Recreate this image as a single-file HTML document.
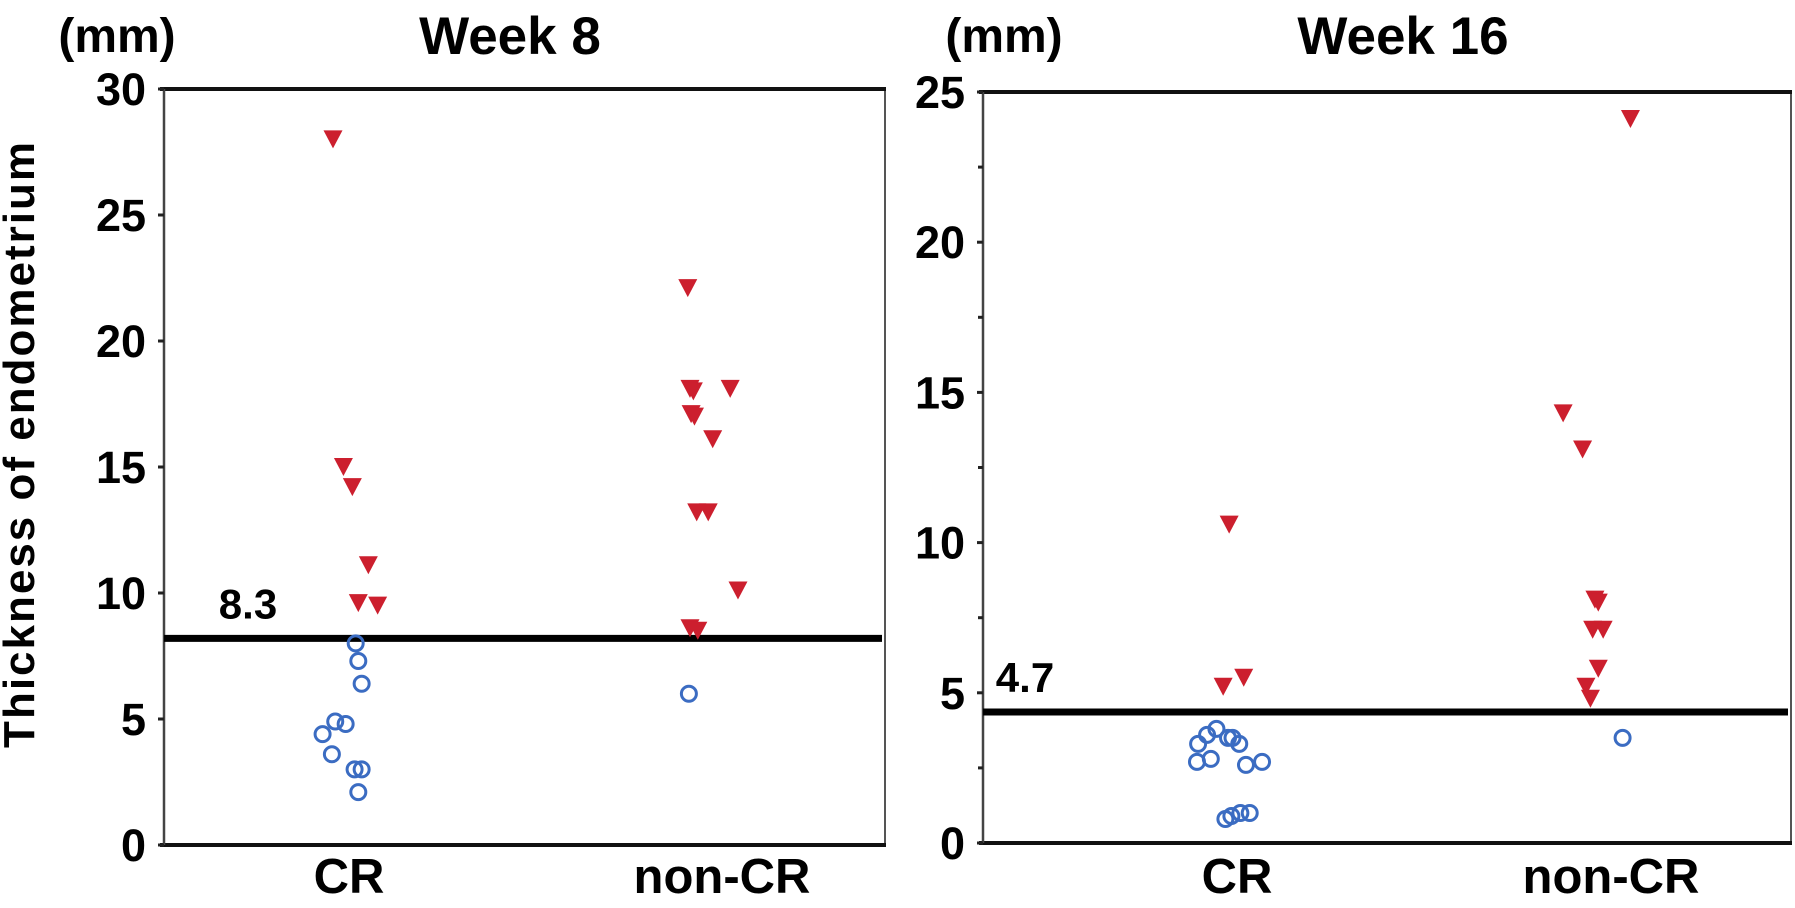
<!DOCTYPE html>
<html><head><meta charset="utf-8"><style>
html,body{margin:0;padding:0;background:#fff;}
svg{display:block;font-family:"Liberation Sans",Arial,sans-serif;font-weight:bold;}
</style></head><body>
<svg id="chart" width="1795" height="908" viewBox="0 0 1795 908">
<text x="34" y="444" font-size="44" text-anchor="middle" transform="rotate(-90 34 444)" letter-spacing="2">Thickness of endometrium</text>
</svg>
<script>
// ---- data: Week 8 ----
const categories = ["CR", "non-CR"];
const w8Ticks = [0, 5, 10, 15, 20, 25, 30];
const w8CrRed = [28, 15, 14.2, 11.1, 9.6, 9.5];
const w8CrRedJ = [-0.043, -0.015, 0.009, 0.052, 0.025, 0.077];
const w8CrBlue = [8.0, 7.3, 6.4, 4.4, 4.9, 4.8, 3.6, 3.0, 3.0, 2.1];
const w8CrBlueJ = [0.018, 0.025, 0.034, -0.071, -0.037, -0.009, -0.046, 0.015, 0.034, 0.025];
const w8NonRed = [22.1, 18.1, 18, 18.1, 17.1, 17, 16.1, 13.2, 13.2, 10.1, 8.6, 8.5];
const w8NonRedJ = [-0.092, -0.086, -0.077, 0.022, -0.083, -0.074, -0.025, -0.068, -0.037, 0.043, -0.086, -0.065];
const w8NonBlue = [6.0];
const w8NonBlueJ = [-0.089];
const w8Cutoff = 8.2;
const w8CutoffLabel = "8.3";
// ---- data: Week 16 ----
const w16Ticks = [0, 5, 10, 15, 20, 25];
const w16Minor = [2.5, 7.5, 12.5, 17.5, 22.5];
const w16CrRed = [10.6, 5.2, 5.5];
const w16CrRedJ = [-0.021, -0.037, 0.018];
const w16CrBlue = [3.8, 3.6, 3.3, 3.5, 3.5, 3.3, 2.7, 2.8, 2.6, 2.7, 0.8, 0.9, 1.0, 1.0];
const w16CrBlueJ = [-0.055, -0.080, -0.104, -0.012, -0.024, 0.006, -0.107, -0.070, 0.024, 0.067, -0.031, -0.015, 0.009, 0.034];
const w16NonRed = [24.1, 14.3, 13.1, 8.1, 8.0, 7.1, 7.1, 5.8, 5.2, 4.8];
const w16NonRedJ = [0.052, -0.128, -0.076, -0.043, -0.034, -0.049, -0.021, -0.034, -0.067, -0.055];
const w16NonBlue = [3.5];
const w16NonBlueJ = [0.031];
const w16Cutoff = 4.36;
const w16CutoffLabel = "4.7";

const NS = "http://www.w3.org/2000/svg";
const svg = document.getElementById("chart");
function mk(tag, attrs, parent) {
  const e = document.createElementNS(NS, tag);
  for (const k in attrs) e.setAttribute(k, attrs[k]);
  (parent || svg).appendChild(e);
  return e;
}

function panel(cfg) {
  const g = mk("g", {});
  
  
  const y = v => cfg.bottom - (v / cfg.max) * (cfg.bottom - cfg.top);
  const x = (ci, j) => cfg.cx[ci] + j * cfg.unit;
  const right = mk("line", {x1: cfg.right, y1: cfg.top, x2: cfg.right, y2: cfg.bottom, stroke: "#555", "stroke-width": 2}, g);
  
  
  const top = mk("line", {x1: cfg.left - 4, y1: cfg.top, x2: cfg.right + 1, y2: cfg.top, stroke: "#111", "stroke-width": 4}, g);
  
  
  const bot = mk("line", {x1: cfg.left - 4, y1: cfg.bottom, x2: cfg.right + 1, y2: cfg.bottom, stroke: "#111", "stroke-width": 4}, g);
  
  
  const yax = mk("line", {x1: cfg.left, y1: cfg.top, x2: cfg.left, y2: cfg.bottom, stroke: "#444", "stroke-width": 2.5}, g);
  
  
  cfg.ticks.forEach(t => {
    const tk = mk("line", {x1: cfg.left - 6, y1: y(t), x2: cfg.left, y2: y(t), stroke: "#222", "stroke-width": 3}, g);
    
    
    const lb = mk("text", {x: cfg.left - 18, y: y(t) + 16, "font-size": 45, "text-anchor": "end"}, g);
    lb.textContent = t;
    
    
  });
  (cfg.minor || []).forEach(t => {
    const tk = mk("line", {x1: cfg.left - 5, y1: y(t), x2: cfg.left, y2: y(t), stroke: "#222", "stroke-width": 3}, g);
    
    
  });
  categories.forEach((c, i) => {
    const lb = mk("text", {x: cfg.cx[i], y: 893, "font-size": 49, "text-anchor": "middle"}, g);
    lb.textContent = c;
    
    
  });
  const ti = mk("text", {x: cfg.titleX, y: 54, "font-size": 53, "text-anchor": "middle"}, g);
  ti.textContent = cfg.title;
  
  
  const mm = mk("text", {x: cfg.mmX, y: 52, "font-size": 48, "text-anchor": "middle"}, g);
  mm.textContent = "(mm)";
  
  
  const cl = mk("line", {x1: cfg.left, y1: y(cfg.cutoff), x2: cfg.right - 3, y2: y(cfg.cutoff), stroke: "#000", "stroke-width": 7}, g);
  
  
  const ct = mk("text", {x: cfg.cutX, y: y(cfg.cutoff) - 20, "font-size": 42, "text-anchor": "middle"}, g);
  ct.textContent = cfg.cutLabel;
  
  
  cfg.blue.forEach(([vals, js, ci]) => vals.forEach((v, k) => {
    const c = mk("circle", {cx: x(ci, js[k]), cy: y(v), r: 7.5, fill: "none", stroke: "#3b6cc2", "stroke-width": 3}, g);
    
    
  }));
  cfg.red.forEach(([vals, js, ci]) => vals.forEach((v, k) => {
    const px = x(ci, js[k]), py = y(v);
    const p = mk("path", {d: `M${px - 9.5} ${py - 9} L${px + 9.5} ${py - 9} L${px} ${py + 9} Z`, fill: "#cc1f2e"}, g);
    
    
  }));
}

panel({name: "week8-panel", left: 164, right: 885, top: 89, bottom: 845, max: 30,
  ticks: w8Ticks, cx: [349, 722], unit: 372, title: "Week 8", titleX: 510, mmX: 117,
  cutoff: w8Cutoff, cutLabel: w8CutoffLabel, cutX: 248,
  red: [[w8CrRed, w8CrRedJ, 0], [w8NonRed, w8NonRedJ, 1]],
  blue: [[w8CrBlue, w8CrBlueJ, 0], [w8NonBlue, w8NonBlueJ, 1]]});
panel({name: "week16-panel", left: 983, right: 1791, top: 92, bottom: 843, max: 25,
  ticks: w16Ticks, minor: w16Minor, cx: [1237, 1611], unit: 374, title: "Week 16", titleX: 1403, mmX: 1004,
  cutoff: w16Cutoff, cutLabel: w16CutoffLabel, cutX: 1025,
  red: [[w16CrRed, w16CrRedJ, 0], [w16NonRed, w16NonRedJ, 1]],
  blue: [[w16CrBlue, w16CrBlueJ, 0], [w16NonBlue, w16NonBlueJ, 1]]});
</script>
</body></html>
